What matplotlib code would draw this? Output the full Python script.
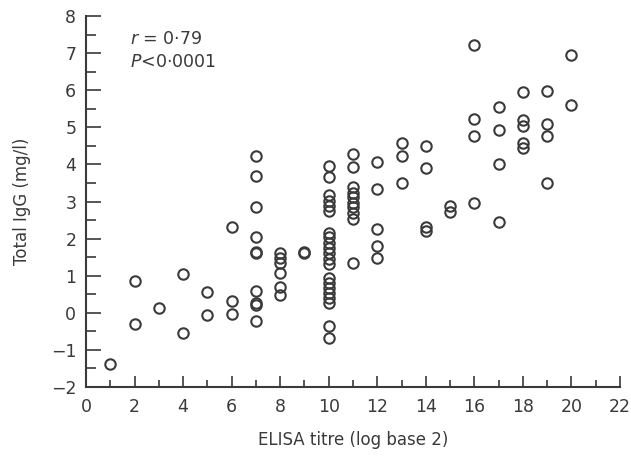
import matplotlib
matplotlib.use('Agg')
import matplotlib.pyplot as plt
from matplotlib.ticker import MultipleLocator

# ELISA titre (log base 2) and total IgG (mg/l)
titre = [1, 2, 3, 4, 5, 6, 7, 8, 9, 10, 11, 12, 13, 14, 15, 16, 17, 18, 19, 20]
igg = [
    [-1.38],
    [0.85, -0.30],
    [0.13],
    [1.04, -0.54],
    [0.56, -0.07],
    [2.31, 0.31, -0.02],
    [4.23, 3.68, 2.84, 2.03, 1.65, 1.60, 0.60, 0.27, 0.20, -0.23],
    [1.62, 1.49, 1.35, 1.08, 0.70, 0.49],
    [1.63, 1.60],
    [3.96, 3.65, 3.17, 3.02, 2.88, 2.75, 2.16, 2.03, 1.89, 1.76, 1.62,
     1.44, 1.31, 0.95, 0.81, 0.68, 0.54, 0.41, 0.27, -0.36, -0.68],
    [4.28, 3.92, 3.38, 3.24, 3.11, 2.97, 2.84, 2.70, 2.52, 1.33],
    [4.07, 3.33, 2.25, 1.80, 1.49],
    [4.58, 4.23, 3.49],
    [4.50, 3.89, 2.32, 2.21],
    [2.88, 2.72],
    [7.23, 5.22, 4.77, 2.97],
    [5.55, 4.94, 4.00, 2.45],
    [5.95, 5.21, 5.04, 4.57, 4.43],
    [5.98, 5.08, 4.77, 3.51],
    [6.94, 5.60],
]
x_ticks = list(range(0, 23, 2))
y_ticks = list(range(-2, 9))
stats_text = ['$r$ = 0·79', '$P$<0·0001']

ink = '#3a3a3a'
plt.rcParams['font.family'] = ['DejaVu Sans']
plt.rcParams['font.size'] = 12

fig = plt.figure(figsize=(6.31, 4.62), dpi=100)
ax = fig.add_axes([0.1363, 0.1623, 0.8463, 0.8031])

xs, ys = [], []
for t, vals in zip(titre, igg):
    for v in vals:
        xs.append(t)
        ys.append(v)

ax.plot(xs, ys, 'o', markersize=7.5, markerfacecolor='none',
        markeredgecolor=ink, markeredgewidth=1.5, linestyle='none', clip_on=False)

ax.set_xlim(0, 22)
ax.set_ylim(-2, 8)
ax.set_xticks(x_ticks)
ax.set_yticks(y_ticks)
ax.xaxis.set_minor_locator(MultipleLocator(1))
ax.yaxis.set_minor_locator(MultipleLocator(0.5))

for side in ['top', 'right']:
    ax.spines[side].set_visible(False)
for side in ['left', 'bottom']:
    ax.spines[side].set_color(ink)
    ax.spines[side].set_linewidth(1.5)

ax.tick_params(axis='x', which='major', direction='in', length=8, width=1.2,
               color=ink, labelcolor=ink, pad=8, labelsize=12.5)
ax.tick_params(axis='x', which='minor', direction='in', length=5, width=1.2, color=ink)
ax.tick_params(axis='y', which='major', direction='in', length=11, width=1.2,
               color=ink, labelcolor=ink, pad=7, labelsize=12.5)
ax.tick_params(axis='y', which='minor', direction='in', length=7, width=1.2, color=ink)

ax.text(1.8, 7.38, stats_text[0], fontsize=12.5, color=ink, va='center')
ax.text(1.8, 6.75, stats_text[1], fontsize=12.5, color=ink, va='center')

fig.text(0.035, 0.565, 'Total IgG (mg/l)', rotation=90, ha='center', va='center',
         fontsize=12, color=ink)
fig.text(0.559, 0.048, 'ELISA titre (log base 2)', ha='center', va='center',
         fontsize=12, color=ink)

fig.savefig('out.png', dpi=100)
